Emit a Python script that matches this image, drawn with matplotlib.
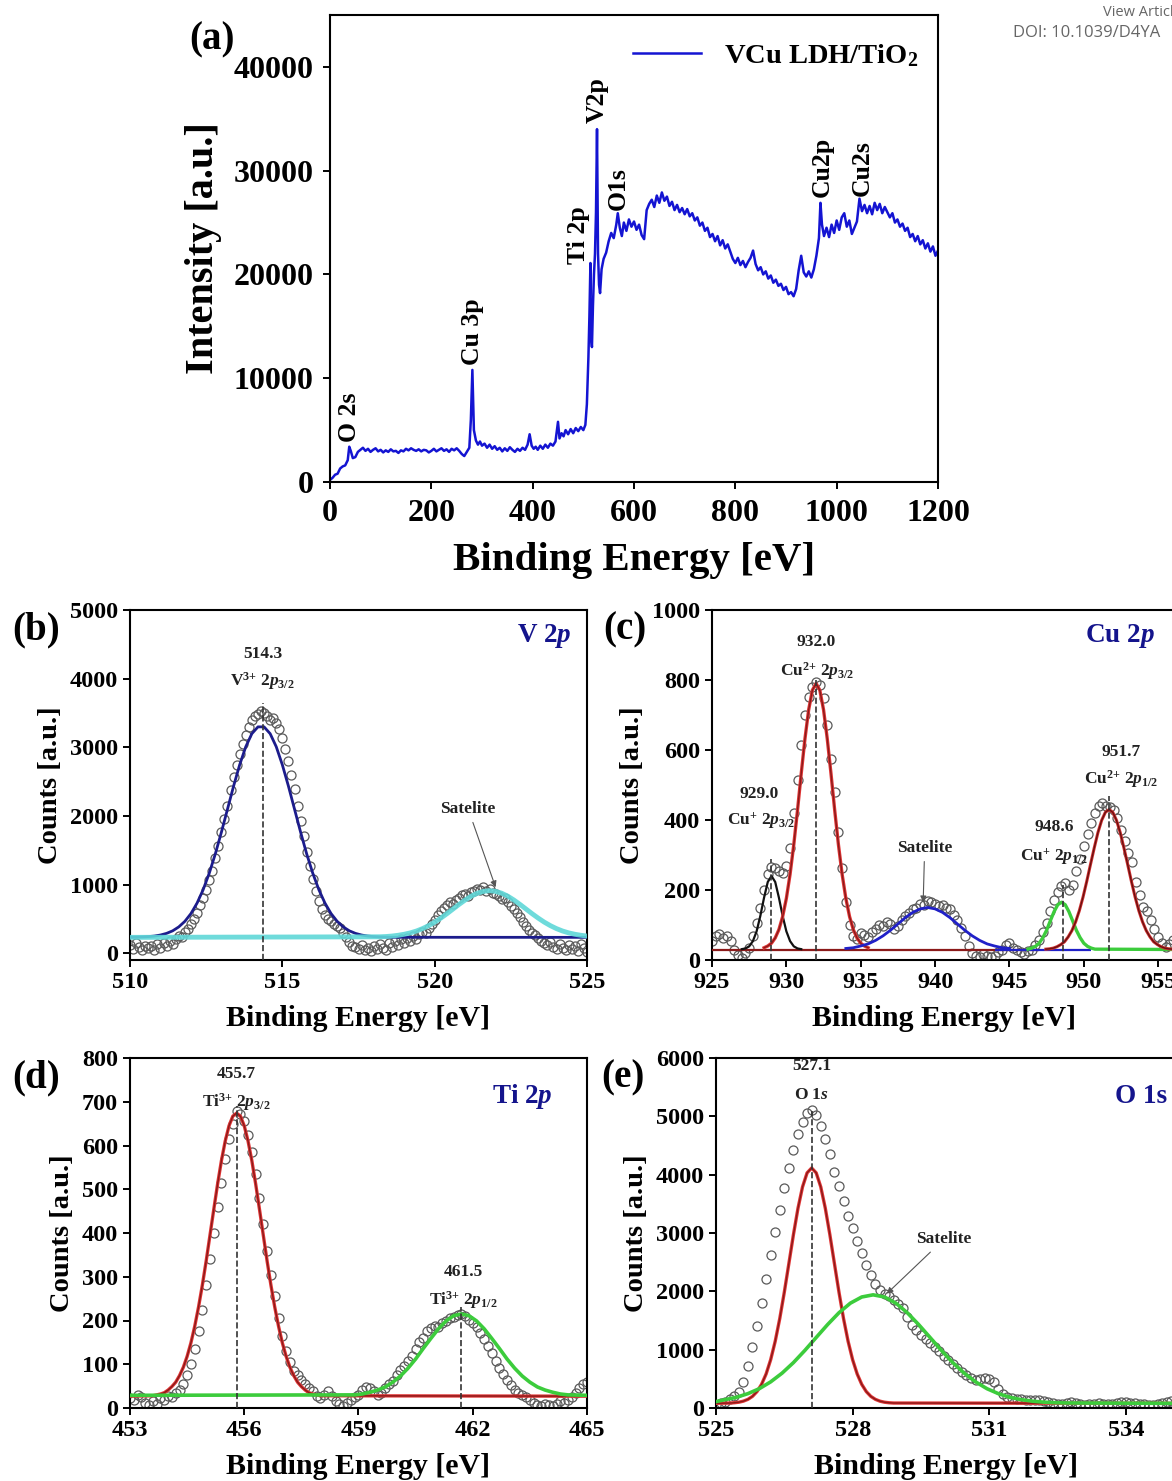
import numpy as np
import matplotlib
matplotlib.use('Agg')
import matplotlib.pyplot as plt

plt.rcParams['font.family'] = ['Liberation Serif', 'DejaVu Serif']
plt.rcParams['font.weight'] = 'bold'
plt.rcParams['axes.labelweight'] = 'bold'
plt.rcParams['mathtext.fontset'] = 'custom'
plt.rcParams['mathtext.rm'] = 'Liberation Serif:bold'
plt.rcParams['mathtext.it'] = 'Liberation Serif:italic:bold'
plt.rcParams['mathtext.bf'] = 'Liberation Serif:bold'
plt.rcParams['axes.linewidth'] = 1.5

# ---------------- (a) survey spectrum ----------------
survey_ev = [0, 5, 10, 15, 20, 25, 30, 35, 38, 41, 45, 50, 55, 60, 65, 70, 75, 80, 85, 90, 95,
             100, 105, 110, 115, 120, 125, 130, 135, 140, 145, 150, 155, 160, 165, 170, 175, 180,
             185, 190, 195, 200, 205, 210, 215, 220, 225, 230, 235, 240, 245, 250, 255, 260, 265,
             270, 275, 278, 281, 284, 288, 292, 296, 300, 305, 310, 315, 320, 325, 330, 335, 340,
             345, 350, 355, 360, 365, 370, 375, 380, 385, 390, 394, 398, 402, 406, 410, 415, 420,
             425, 430, 435, 440, 445, 450, 453, 457, 461, 465, 470, 475, 480, 485, 490, 495, 500,
             504, 507, 510, 512, 514, 515, 517, 519, 521, 523, 525, 527, 529, 531, 533, 536, 540,
             545, 550, 555, 560, 565, 568, 572, 576, 580, 585, 590, 595, 600, 605, 610, 615, 620,
             625, 630, 635, 640, 645, 650, 655, 660, 665, 670, 675, 680, 685, 690, 695, 700, 705,
             710, 715, 720, 725, 730, 735, 740, 745, 750, 755, 760, 765, 770, 775, 780, 785, 790,
             795, 800, 805, 810, 815, 820, 825, 830, 835, 840, 845, 850, 855, 860, 865, 870, 875,
             880, 885, 890, 895, 900, 905, 910, 915, 920, 925, 930, 935, 940, 945, 950, 955, 960,
             965, 968, 971, 975, 980, 985, 990, 995, 1000, 1005, 1010, 1015, 1020, 1025, 1030,
             1035, 1040, 1045, 1050, 1055, 1060, 1065, 1070, 1075, 1080, 1085, 1090, 1095, 1100,
             1105, 1110, 1115, 1120, 1125, 1130, 1135, 1140, 1145, 1150, 1155, 1160, 1165, 1170,
             1175, 1180, 1185, 1190, 1195, 1200]
survey_counts = [200, 400, 700, 800, 1300, 1500, 1600, 2100, 3400, 3000, 2300, 2400, 2900, 3100,
                 3300, 3000, 3200, 2900, 3100, 3250, 2950, 3100, 2850, 3050, 2900, 3150, 2950, 3000,
                 2800, 3050, 2950, 3200, 3050, 3250, 3100, 3000, 3150, 2950, 3100, 3050, 2850, 3000,
                 3200, 2950, 3100, 3250, 3000, 3150, 2900, 3200, 3050, 3250, 3000, 2700, 2500, 2900,
                 3300, 6000, 10800, 5000, 4000, 3600, 3900, 3500, 3700, 3300, 3600, 3200, 3450, 3100,
                 3300, 2950, 3250, 3000, 3350, 3100, 2900, 3200, 3000, 3300, 3100, 3600, 4600, 3500,
                 3200, 3400, 3100, 3500, 3200, 3600, 3300, 3700, 3500, 3900, 5800, 4200, 4700, 4400,
                 5000, 4600, 5100, 4700, 5200, 4900, 5300, 5000, 5500, 7500, 12000, 16000, 21100,
                 14000, 13000, 17000, 20000, 22000, 26000, 34000, 22000, 19000, 18200, 20500, 21500,
                 22100, 23200, 24000, 23500, 24800, 25900, 24500, 23700, 25000, 24200, 25300, 24600,
                 25100, 24300, 24800, 23800, 23400, 26200, 26800, 27200, 26500, 27600, 26900, 27900,
                 27100, 27500, 26600, 27000, 26200, 26700, 26000, 26400, 25800, 26300, 25600, 25900,
                 25200, 25500, 24700, 25000, 24200, 24500, 23600, 23900, 23200, 23700, 22800, 23300,
                 22500, 22900, 22200, 21500, 21100, 21600, 20900, 21300, 20700, 21200, 21600, 22300,
                 21000, 20400, 20700, 20000, 20300, 19600, 19900, 19200, 19500, 18900, 19100, 18500,
                 18800, 18100, 18300, 17900, 18600, 20400, 21800, 20200, 19800, 20300, 19700, 20500,
                 21800, 23500, 26900, 24800, 23700, 24500, 23600, 24800, 24000, 25200, 24300, 25500,
                 25900, 24600, 25200, 23900, 24500, 25100, 27300, 26100, 26700, 25900, 26600, 25800,
                 26900, 26200, 26800, 25900, 26500, 26000, 25500, 25900, 25000, 25300, 24600, 24900,
                 24200, 24500, 23600, 23900, 23200, 23700, 22900, 23300, 22500, 23000, 22200, 22700,
                 21800, 22300]
survey_names = ['O 2s', 'Cu 3p', 'Ti 2p', 'V2p', 'O1s', 'Cu2p', 'Cu2s']
survey_name_ev = [39, 281, 490, 527, 568, 971, 1050]
survey_name_y = [3900, 11300, 21000, 34600, 26200, 27500, 27600]

# ---------------- (b) V 2p ----------------
v_counts = [120, 60, 150, 90, 40, 110, 70, 100, 50, 130, 80,
            150, 110, 180, 140, 200, 250, 230, 310, 350, 420,
            500, 590, 700, 800, 920, 1060, 1200, 1380, 1560, 1760,
            1960, 2150, 2380, 2560, 2740, 2900, 3050, 3180, 3300, 3390,
            3450, 3480, 3530, 3500, 3450, 3400, 3420, 3350, 3260, 3130,
            2980, 2800, 2600, 2390, 2150, 1930, 1700, 1480, 1270, 1080,
            900, 760, 640, 560, 500, 470, 430, 400, 360, 300,
            240, 160, 110, 90, 60, 120, 50, 80, 30, 100,
            60, 140, 80, 40, 150, 90, 180, 120, 200, 150,
            220, 170, 250, 200, 280, 310, 290, 360, 420, 480,
            560, 610, 660, 700, 740, 720, 780, 800, 840, 860,
            830, 890, 900, 940, 920, 960, 900, 940, 880, 860,
            830, 790, 800, 740, 680, 640, 580, 520, 460, 400,
            340, 300, 260, 220, 180, 150, 120, 160, 90, 60,
            130, 80, 40, 120, 60, 100, 30, 140, 70, 20]
v_main_fit = [231, 233, 236, 241, 249, 264, 288, 325, 382, 463, 576, 728, 923, 1163, 1445, 1762,
              2098, 2434, 2745, 3008, 3198, 3297, 3297, 3198, 3008, 2745, 2434, 2098, 1762, 1445,
              1163, 923, 728, 576, 463, 382, 325, 288, 264, 249, 241, 236, 233, 231]
v_sat_fit = [238, 242, 249, 260, 275, 295, 322, 357, 400, 451, 510, 574, 642, 710, 774, 830, 873,
             900, 910, 900, 873, 830, 774, 710, 642, 574, 510, 451, 400, 357, 322, 295, 275, 260, 249]
v_base = 230

# ---------------- (c) Cu 2p ----------------
cu_counts = [55, 70, 75, 62, 70, 55, 30, 15, 5, 20, 35, 70, 105, 150, 200, 245, 265, 262, 255, 250,
             268, 320, 420, 515, 615, 700, 752, 780, 795, 785, 748, 672, 575, 480, 365, 262, 165, 100,
             70, 60, 78, 72, 65, 80, 88, 100, 96, 110, 102, 90, 98, 115, 125, 135, 145, 150, 160, 158,
             168, 165, 160, 155, 158, 150, 145, 130, 115, 92, 68, 40, 20, 12, 10, 16, 12, 8, 12, 22,
             30, 42, 48, 35, 28, 22, 18, 25, 30, 42, 58, 80, 105, 140, 172, 195, 212, 220, 200, 215,
             255, 290, 325, 360, 392, 420, 440, 450, 440, 438, 428, 405, 372, 340, 305, 280, 222, 185,
             152, 140, 115, 90, 66, 48, 38, 45, 57, 60]
cu1_32_fit = [31, 33, 39, 54, 82, 126, 178, 223, 240, 223, 178, 126, 82, 54, 39, 33, 31]
cu2_32_fit = [35, 40, 48, 63, 87, 124, 176, 245, 330, 428, 533, 632, 715, 771, 790, 771, 715, 632,
              533, 428, 330, 245, 176, 124, 87, 63, 48, 40, 35]
cu_sat_fit = [33, 35, 40, 46, 56, 69, 85, 103, 121, 136, 146, 150, 146, 136, 121, 103, 85, 69, 56,
              46, 40, 35, 33]
cu1_12_fit = [31, 34, 39, 48, 64, 85, 112, 138, 158, 165, 158, 138, 112, 85, 64, 48, 39, 34, 31]
cu2_12_fit = [31, 32, 34, 38, 44, 52, 66, 84, 109, 141, 180, 225, 273, 320, 364, 399, 422, 430, 422,
              399, 364, 320, 273, 225, 180, 141, 109, 84, 66, 52, 44, 38, 34, 32, 31]
cu_base = 30
cu_peaks = [929.0, 932.0, 948.6, 951.7]
cu_peak_tops = [290, 800, 215, 470]

# ---------------- (d) Ti 2p ----------------
ti_counts = [22, 18, 30, 25, 12, 8, 15, 10, 22, 18,
             28, 25, 35, 42, 55, 75, 100, 135, 175, 225,
             282, 340, 400, 460, 515, 570, 615, 650, 680, 672,
             655, 625, 585, 535, 480, 420, 360, 305, 255, 205,
             165, 130, 105, 85, 75, 65, 55, 45, 38, 28,
             22, 30, 38, 28, 15, 10, 5, 12, 18, 25,
             30, 42, 48, 45, 38, 30, 35, 45, 55, 62,
             75, 88, 95, 108, 120, 135, 150, 160, 175, 182,
             188, 185, 195, 200, 205, 208, 212, 215, 210, 202,
             195, 185, 172, 158, 142, 125, 108, 92, 78, 65,
             52, 42, 35, 30, 25, 18, 12, 8, 5, 10,
             8, 5, 10, 15, 12, 18, 25, 35, 45, 55,
             60]
ti_32_fit = [28, 30, 32, 35, 41, 49, 59, 74, 93, 118, 149, 187, 231, 281, 336, 395, 454, 512, 565,
             610, 645, 667, 674, 667, 645, 610, 565, 512, 454, 395, 336, 281, 231, 187, 149, 118, 93,
             74, 59, 49, 41, 35, 32, 30, 28]
ti_12_fit = [30, 32, 36, 41, 48, 59, 73, 91, 112, 136, 159, 181, 199, 211, 215, 211, 199, 181, 159,
             136, 112, 91, 73, 59, 48, 41, 36, 32, 30]
ti_base = 27
ti_peaks = [455.8, 461.7]
ti_peak_tops = [690, 230]

# ---------------- (e) O 1s ----------------
o_counts = [60, 80, 110, 150, 200, 280, 450, 720, 1050, 1400,
            1800, 2220, 2620, 3020, 3400, 3780, 4120, 4430, 4700, 4900,
            5050, 5110, 5020, 4830, 4620, 4350, 4050, 3800, 3550, 3300,
            3080, 2870, 2650, 2450, 2280, 2130, 2030, 1960, 1920, 1860,
            1790, 1720, 1560, 1430, 1340, 1260, 1190, 1120, 1040, 970,
            900, 820, 760, 690, 620, 560, 510, 480, 490, 520,
            500, 450, 330, 240, 190, 170, 160, 150, 145, 140,
            145, 130, 115, 100, 90, 75, 70, 80, 95, 85,
            70, 60, 65, 75, 80, 70, 65, 75, 90, 95,
            100, 90, 80, 70, 75, 60, 55, 65, 80, 100,
            120]
o_main_fit = [85, 90, 99, 117, 148, 199, 281, 405, 583, 827, 1144, 1534, 1986, 2477, 2971, 3424,
              3791, 4031, 4114, 4031, 3791, 3424, 2971, 2477, 1986, 1534, 1144, 827, 583, 405, 281,
              199, 148, 117, 99, 90, 85]
o_sat_fit = [143, 184, 246, 331, 448, 597, 778, 986, 1209, 1430, 1633, 1797, 1903, 1940, 1903, 1797,
             1633, 1430, 1209, 986, 778, 597, 448, 331, 246, 184, 143, 117, 100, 91, 86]
o_base = 80

W, H = 1172, 1481
fig = plt.figure(figsize=(W / 100, H / 100), dpi=100)

TICK_S = 17.5   # small panel tick labels
XLAB_S = 21.5
YLAB_S = 20.5
NOTE_S = 12.5


def box(l, t, r, b):
    return [l / W, 1 - b / H, (r - l) / W, (b - t) / H]


def style(ax, size, pad=3.5):
    ax.tick_params(direction='out', length=5, width=1.4, labelsize=size, pad=pad)
    for s in ax.spines.values():
        s.set_linewidth(1.5)


def circles(ax, x, y):
    ax.plot(x, y, 'o', mfc='none', mec='#5a5a5a', ms=6.5, mew=0.9, zorder=2)


def note(ax, x, y, s, size=NOTE_S):
    ax.text(x, y, s, ha='center', va='center', fontsize=size, color='#222222')


def arrow_note(ax, xy, xytext):
    ax.annotate('Satelite', xy=xy, xytext=xytext, ha='center', va='center', fontsize=NOTE_S,
                color='#222222',
                arrowprops=dict(arrowstyle='-|>', color='#555555', lw=0.8, mutation_scale=9,
                                shrinkA=2, shrinkB=0), zorder=6)


def labels(ax):
    ax.set_xlabel('Binding Energy [eV]', fontsize=XLAB_S, labelpad=9)
    ax.set_ylabel('Counts [a.u.]', fontsize=YLAB_S, labelpad=5)


# ---- (a)
ax = fig.add_axes(box(330, 15, 938, 482))
ax.plot(survey_ev, survey_counts, color='#1414d2', lw=1.8, label='VCu LDH/TiO$_2$')
ax.set_xlim(0, 1200)
ax.set_ylim(0, 45000)
ax.set_xticks(range(0, 1201, 200))
ax.set_yticks(range(0, 40001, 10000))
style(ax, 23, pad=7)
ax.set_xlabel('Binding Energy [eV]', fontsize=29.5, labelpad=10)
ax.set_ylabel('Intensity [a.u.]', fontsize=29, labelpad=8)
for name, xe, ye in zip(survey_names, survey_name_ev, survey_name_y):
    ax.text(xe, ye, name, rotation=90, ha='center', va='bottom', fontsize=18.5)
ax.legend(loc='upper right', frameon=False, fontsize=20.5, handlelength=2.4,
          borderaxespad=0.3, bbox_to_anchor=(1.0, 0.985))

# ---- (b)
ax = fig.add_axes(box(130, 610, 587, 960))
circles(ax, 510 + 0.1 * np.arange(len(v_counts)), v_counts)
xm = list(510.0 + 0.2 * np.arange(len(v_main_fit))) + [525]
ax.plot(xm, v_main_fit + [v_base], color='#1c1c8c', lw=2, zorder=3)
xs = [510] + list(518.2 + 0.2 * np.arange(len(v_sat_fit)))
ax.plot(xs, [v_base] + v_sat_fit, color='#5fd8d8', lw=3.5, alpha=0.9, zorder=4)
ax.vlines(514.35, -100, 3640, colors='#333333', linestyles='--', lw=1.2, zorder=5)
note(ax, 514.35, 4360, '514.3')
note(ax, 514.35, 3960, 'V$^{3{+}}$ 2$p_{3/2}$')
arrow_note(ax, (522.0, 960), (521.1, 2100))
ax.text(0.967, 0.925, 'V 2$p$', transform=ax.transAxes, ha='right', va='center',
        fontsize=19.5, color='#14148c')
ax.set_xlim(510, 525)
ax.set_ylim(-100, 5000)
ax.set_xticks([510, 515, 520, 525])
ax.set_yticks(range(0, 5001, 1000))
style(ax, TICK_S)
labels(ax)

# ---- (c)
ax = fig.add_axes(box(712, 610, 1176, 960))
circles(ax, 925 + 0.25 * np.arange(len(cu_counts)), cu_counts)
ax.hlines(cu_base, 925, 947, colors='#8b1a1a', lw=1.6, zorder=3)
ax.hlines(cu_base, 944, 950.5, colors='#2020c8', lw=1.6, zorder=3)
ax.plot(927.0 + 0.25 * np.arange(len(cu1_32_fit)), cu1_32_fit, color='#111111', lw=1.6, zorder=4)
x = 928.5 + 0.25 * np.arange(len(cu2_32_fit))
ax.plot(x, cu2_32_fit, color='#e03535', lw=2.4, zorder=4)
ax.plot(x, cu2_32_fit, color='#8b1a1a', lw=1.0, zorder=4)
ax.plot(934.0 + 0.5 * np.arange(len(cu_sat_fit)), cu_sat_fit, color='#2020c8', lw=2, zorder=4)
xg = list(946.25 + 0.25 * np.arange(len(cu1_12_fit))) + [956.3]
ax.plot(xg, cu1_12_fit + [cu_base], color='#3ccc3c', lw=2.4, zorder=4)
x = 947.45 + 0.25 * np.arange(len(cu2_12_fit))
ax.plot(x, cu2_12_fit, color='#d03030', lw=2.2, zorder=4)
ax.plot(x, cu2_12_fit, color='#6b1010', lw=1.0, zorder=4)
ax.vlines(cu_peaks, 0, cu_peak_tops, colors='#333333', linestyles='--', lw=1.2, zorder=5)
note(ax, 928.2, 474, '929.0')
note(ax, 928.3, 398, 'Cu$^{{+}}$ 2$p_{3/2}$')
note(ax, 932.0, 909, '932.0')
note(ax, 932.1, 826, 'Cu$^{2{+}}$ 2$p_{3/2}$')
note(ax, 948.0, 379, '948.6')
note(ax, 948.0, 296, 'Cu$^{{+}}$ 2$p_{1/2}$')
note(ax, 952.5, 594, '951.7')
note(ax, 952.5, 518, 'Cu$^{2{+}}$ 2$p_{1/2}$')
arrow_note(ax, (939.2, 165), (939.3, 320))
ax.text(0.955, 0.925, 'Cu 2$p$', transform=ax.transAxes, ha='right', va='center',
        fontsize=19.5, color='#14148c')
ax.set_xlim(925, 956.2)
ax.set_ylim(0, 1000)
ax.set_xticks(range(925, 956, 5))
ax.set_yticks(range(0, 1001, 200))
style(ax, TICK_S)
labels(ax)

# ---- (d)
ax = fig.add_axes(box(130, 1058, 587, 1408))
circles(ax, 453 + 0.1 * np.arange(len(ti_counts)), ti_counts)
xr = [453] + list(453.6 + 0.1 * np.arange(len(ti_32_fit))) + [465]
ax.plot(xr, [ti_base] + ti_32_fit + [ti_base], color='#e03535', lw=2.4, zorder=3)
ax.plot(xr, [ti_base] + ti_32_fit + [ti_base], color='#8b1a1a', lw=1.0, zorder=3)
xg = [453] + list(458.9 + 0.2 * np.arange(len(ti_12_fit))) + [465]
ax.plot(xg, [ti_base + 2] + ti_12_fit + [ti_base + 2], color='#3ccc3c', lw=2.6, zorder=4)
ax.vlines(ti_peaks, 0, ti_peak_tops, colors='#333333', linestyles='--', lw=1.2, zorder=5)
note(ax, 455.8, 764, '455.7')
note(ax, 455.8, 699, 'Ti$^{3{+}}$ 2$p_{3/2}$')
note(ax, 461.75, 311, '461.5')
note(ax, 461.75, 246, 'Ti$^{3{+}}$ 2$p_{1/2}$')
ax.text(0.926, 0.89, 'Ti 2$p$', transform=ax.transAxes, ha='right', va='center',
        fontsize=19.5, color='#14148c')
ax.set_xlim(453, 465)
ax.set_ylim(0, 800)
ax.set_xticks([453, 456, 459, 462, 465])
ax.set_yticks(range(0, 801, 100))
style(ax, TICK_S)
labels(ax)

# ---- (e)
ax = fig.add_axes(box(716, 1058, 1176, 1408))
circles(ax, 525 + 0.1 * np.arange(len(o_counts)), o_counts)
xr = [525] + list(525.3 + 0.1 * np.arange(len(o_main_fit))) + [535.1]
ax.plot(xr, [o_base] + o_main_fit + [o_base], color='#e03535', lw=2.4, zorder=3)
ax.plot(xr, [o_base] + o_main_fit + [o_base], color='#8b1a1a', lw=1.0, zorder=3)
xg = [525] + list(525.2 + 0.25 * np.arange(len(o_sat_fit))) + [535.1]
ax.plot(xg, [o_base + 30] + o_sat_fit + [o_base], color='#3ccc3c', lw=2.6, zorder=4)
ax.vlines(527.1, 0, 5100, colors='#333333', linestyles='--', lw=1.2, zorder=5)
note(ax, 527.1, 5860, '527.1')
note(ax, 527.1, 5360, 'O 1$s$')
arrow_note(ax, (528.75, 1960), (530.0, 2890))
ax.text(0.98, 0.89, 'O 1s', transform=ax.transAxes, ha='right', va='center',
        fontsize=19.5, color='#14148c')
ax.set_xlim(525, 535.1)
ax.set_ylim(0, 6000)
ax.set_xticks([525, 528, 531, 534])
ax.set_yticks(range(0, 6001, 1000))
style(ax, TICK_S)
labels(ax)

# panel letters
for lab, px, py in [('(a)', 212, 40), ('(b)', 36, 630), ('(c)', 625, 630),
                    ('(d)', 36, 1078), ('(e)', 623, 1078)]:
    fig.text(px / W, 1 - py / H, lab, ha='center', va='center', fontsize=28)

fig.text(1103 / W, 1 - 13 / H, 'View Article Online', ha='left', va='center',
         fontsize=10.5, color='#666666', family='Open Sans', weight='normal')
fig.text(1013 / W, 1 - 33 / H, 'DOI: 10.1039/D4YA', ha='left', va='center',
         fontsize=12, color='#666666', family='Open Sans', weight='normal')

fig.savefig('out.png', dpi=100)
